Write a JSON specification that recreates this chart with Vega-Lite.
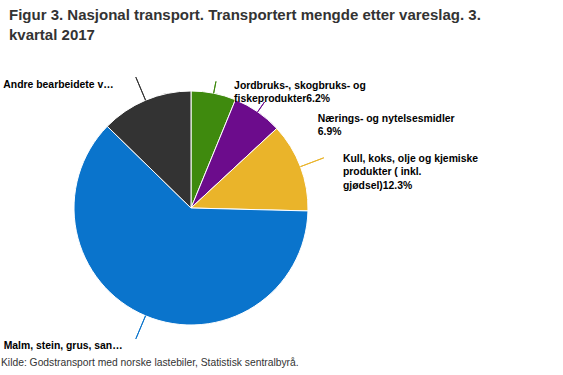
{
  "$schema": "https://vega.github.io/schema/vega-lite/v6.json",
  "background": "white",
  "padding": {"left": 1, "top": 8, "right": 5, "bottom": 5},
  "config": {"view": {"stroke": null}, "font": "Liberation Sans"},
  "title": {
    "text": "Kilde: Godstransport med norske lastebiler, Statistisk sentralbyrå.",
    "orient": "bottom",
    "anchor": "start",
    "frame": "group",
    "fontSize": 10.3,
    "fontWeight": "normal",
    "color": "#333333",
    "offset": -10
  },
  "vconcat": [
    {
      "title": {
        "text": ["Figur 3. Nasjonal transport. Transportert mengde etter vareslag. 3.", "kvartal 2017"],
        "anchor": "start",
        "frame": "group",
        "fontSize": 15,
        "fontWeight": "bold",
        "color": "#333333",
        "lineHeight": 20,
        "dx": 8,
        "offset": 19
      },
      "width": 380,
      "height": 292,
      "data": {
        "values": [
          {"idx": 1, "label": "Jordbruks-, skogbruks- og\nfiskeprodukter6.2%", "share": 6.2},
          {"idx": 2, "label": "Nærings- og nytelsesmidler\n6.9%", "share": 6.9},
          {"idx": 3, "label": "Kull, koks, olje og kjemiske\nprodukter ( inkl.\ngjødsel)12.3%", "share": 12.3},
          {"idx": 4, "label": "Malm, stein, grus, san…", "share": 61.9},
          {"idx": 5, "label": "Andre bearbeidete v…", "share": 12.7}
        ]
      },
      "encoding": {
        "theta": {"field": "share", "type": "quantitative", "stack": true},
        "order": {"field": "idx", "type": "quantitative"}
      },
      "layer": [
        {
          "mark": {"type": "arc", "outerRadius": 117, "stroke": "white", "strokeWidth": 1},
          "encoding": {
            "color": {
              "field": "idx",
              "type": "nominal",
              "legend": null,
              "scale": {"domain": [1, 2, 3, 4, 5], "range": ["#3f8a0e", "#6c0c8c", "#eab42a", "#0a74cc", "#333333"]}
            }
          }
        },
        {
          "mark": {"type": "arc", "filled": false, "radius": 129, "radius2": 117, "theta2": 0, "thetaOffset": -1.2, "theta2Offset": 1.2, "padAngle": 3, "strokeWidth": 1},
          "encoding": {
            "color": {"field": "idx", "type": "nominal", "legend": null},
            "strokeOpacity": {"condition": {"test": "datum.idx <= 2", "value": 1}, "value": 0}
          }
        },
        {
          "mark": {"type": "arc", "filled": false, "radius": 142, "radius2": 117, "theta2": 0, "thetaOffset": -1.2, "theta2Offset": 1.2, "padAngle": 3, "strokeWidth": 1},
          "encoding": {
            "color": {"field": "idx", "type": "nominal", "legend": null},
            "strokeOpacity": {"condition": {"test": "datum.idx >= 3", "value": 1}, "value": 0}
          }
        },
        {
          "mark": {"type": "text", "radius": 140, "dx": 16, "dy": 15, "align": "left", "baseline": "middle", "lineBreak": "\n", "lineHeight": 13.5, "fontSize": 10.4, "fontWeight": "bold", "color": "#000000"},
          "encoding": {"text": {"condition": {"test": "datum.idx === 1", "field": "label"}, "value": ""}}
        },
        {
          "mark": {"type": "text", "radius": 140, "dx": 47, "dy": 26, "align": "left", "baseline": "middle", "lineBreak": "\n", "lineHeight": 13.5, "fontSize": 10.4, "fontWeight": "bold", "color": "#000000"},
          "encoding": {"text": {"condition": {"test": "datum.idx === 2", "field": "label"}, "value": ""}}
        },
        {
          "mark": {"type": "text", "radius": 140, "dx": 21, "dy": 0, "align": "left", "baseline": "middle", "lineBreak": "\n", "lineHeight": 13.5, "fontSize": 10.4, "fontWeight": "bold", "color": "#000000"},
          "encoding": {"text": {"condition": {"test": "datum.idx === 3", "field": "label"}, "value": ""}}
        },
        {
          "mark": {"type": "text", "radius": 140, "dx": -14, "dy": 9, "align": "right", "baseline": "middle", "lineBreak": "\n", "lineHeight": 13.5, "fontSize": 10.4, "fontWeight": "bold", "color": "#000000"},
          "encoding": {"text": {"condition": {"test": "datum.idx === 4", "field": "label"}, "value": ""}}
        },
        {
          "mark": {"type": "text", "radius": 140, "dx": -23, "dy": 6, "align": "right", "baseline": "middle", "lineBreak": "\n", "lineHeight": 13.5, "fontSize": 10.4, "fontWeight": "bold", "color": "#000000"},
          "encoding": {"text": {"condition": {"test": "datum.idx === 5", "field": "label"}, "value": ""}}
        }
      ]
    }
  ]
}
